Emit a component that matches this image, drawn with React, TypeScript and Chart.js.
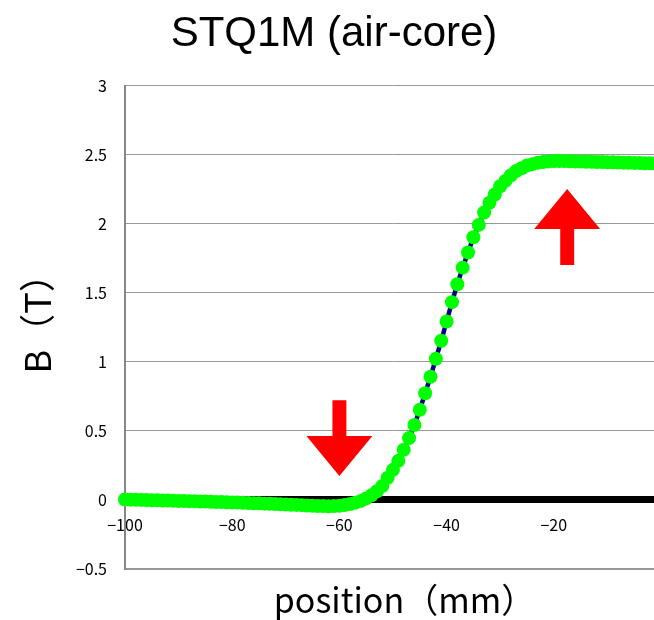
import React, { useEffect, useRef } from 'react';
import { Chart, registerables } from 'chart.js';

Chart.register(...registerables);

// ---- data ----
const positionMm = [
  -100, -99, -98, -97, -96, -95, -94, -93, -92, -91,
  -90, -89, -88, -87, -86, -85, -84, -83, -82, -81,
  -80, -79, -78, -77, -76, -75, -74, -73, -72, -71,
  -70, -69, -68, -67, -66, -65, -64, -63, -62, -61,
  -60, -59, -58, -57, -56, -55, -54, -53, -52, -51,
  -50, -49, -48, -47, -46, -45, -44, -43, -42, -41,
  -40, -39, -38, -37, -36, -35, -34, -33, -32, -31,
  -30, -29, -28, -27, -26, -25, -24, -23, -22, -21,
  -20, -19, -18, -17, -16, -15, -14, -13, -12, -11,
  -10, -9, -8, -7, -6, -5, -4, -3, -2, -1, 0,
];
const fieldT = [
  0.000, -0.001, -0.002, -0.003, -0.004, -0.005, -0.006, -0.007, -0.008, -0.009,
  -0.010, -0.011, -0.012, -0.013, -0.014, -0.015, -0.017, -0.018, -0.019, -0.020,
  -0.021, -0.022, -0.024, -0.025, -0.027, -0.028, -0.030, -0.031, -0.033, -0.034,
  -0.036, -0.038, -0.039, -0.041, -0.043, -0.045, -0.047, -0.048, -0.049, -0.048,
  -0.045, -0.040, -0.033, -0.023, -0.010, 0.008, 0.031, 0.060, 0.098, 0.158,
  0.215, 0.280, 0.360, 0.445, 0.540, 0.650, 0.770, 0.890, 1.020, 1.150,
  1.290, 1.430, 1.560, 1.680, 1.790, 1.900, 1.990, 2.080, 2.150, 2.210,
  2.270, 2.310, 2.350, 2.380, 2.400, 2.420, 2.430, 2.440, 2.445, 2.450,
  2.452, 2.452, 2.452, 2.451, 2.450, 2.449, 2.448, 2.447, 2.446, 2.445,
  2.444, 2.443, 2.442, 2.441, 2.440, 2.439, 2.438, 2.437, 2.436, 2.435, 2.434,
];
const baselineX = [-100, 0];
const baselineY = [0, 0];

const xTickValues = [-100, -80, -60, -40, -20, 0];
const yTickValues = [-0.5, 0, 0.5, 1, 1.5, 2, 2.5, 3];

// arrows (data units): centre x, tip y, head-base y, tail y
const arrowX = [-60, -17.5];
const arrowTipY = [0.17, 2.25];
const arrowHeadBaseY = [0.46, 1.96];
const arrowTailY = [0.72, 1.7];
const arrowHeadHalfWidthMm = 6.15;
const arrowShaftHalfWidthMm = 1.3;

const TITLE = 'STQ1M (air-core)';
const X_TITLE = '   position（mm）';
const Y_TITLE = '   B（T）';

const CJK = "'Noto Sans CJK JP', 'Noto Sans', sans-serif";
const fmt = (v: number | string) => String(v).replace('-', '\u2212');

const arrowPlugin = {
  id: 'redArrows',
  afterDatasetsDraw(chart: any) {
    const { ctx, scales } = chart;
    const x = scales.x;
    const y = scales.y;
    ctx.save();
    ctx.fillStyle = '#ff0000';
    arrowX.forEach((ax, i) => {
      const cx = x.getPixelForValue(ax);
      const hw = x.getPixelForValue(ax + arrowHeadHalfWidthMm) - cx;
      const sw = x.getPixelForValue(ax + arrowShaftHalfWidthMm) - cx;
      const tip = y.getPixelForValue(arrowTipY[i]);
      const base = y.getPixelForValue(arrowHeadBaseY[i]);
      const tail = y.getPixelForValue(arrowTailY[i]);
      ctx.beginPath();
      ctx.moveTo(cx - sw, tail);
      ctx.lineTo(cx + sw, tail);
      ctx.lineTo(cx + sw, base);
      ctx.lineTo(cx + hw, base);
      ctx.lineTo(cx, tip);
      ctx.lineTo(cx - hw, base);
      ctx.lineTo(cx - sw, base);
      ctx.closePath();
      ctx.fill();
    });
    ctx.restore();
  },
};

export default function App() {
  const ref = useRef<HTMLCanvasElement | null>(null);

  useEffect(() => {
    if (!ref.current) return;
    const greenData = positionMm.map((p, i) => ({ x: p, y: fieldT[i] }));
    const blackData = baselineX.map((p, i) => ({ x: p, y: baselineY[i] }));

    const chart = new Chart(ref.current, {
      type: 'scatter',
      data: {
        datasets: [
          {
            label: 'B',
            data: greenData,
            showLine: true,
            borderColor: '#000080',
            borderWidth: 4.5,
            pointRadius: 7,
            pointHoverRadius: 7,
            pointBackgroundColor: '#00ff00',
            pointBorderColor: '#00ff00',
            pointBorderWidth: 0,
            clip: false as any,
            order: 1,
            xAxisID: 'x',
            yAxisID: 'y',
          },
          {
            label: 'zero',
            data: blackData,
            showLine: true,
            borderColor: '#000000',
            borderWidth: 7,
            pointRadius: 0,
            order: 3,
            xAxisID: 'x',
            yAxisID: 'y',
          },
        ],
      },
      options: {
        responsive: false,
        animation: false,
        devicePixelRatio: 1,
        layout: { padding: { top: 0, left: 0, right: 0, bottom: 0 } },
        plugins: {
          legend: { display: false },
          tooltip: { enabled: false },
          title: {
            display: true,
            text: TITLE,
            color: '#000',
            font: { family: "'Liberation Sans', Arial, sans-serif", size: 42, weight: 'normal' as any },
            padding: { top: 9.3, bottom: 25.8 },
          },
        },
        scales: {
          x: {
            type: 'linear',
            position: { y: 0 } as any,
            min: -100,
            max: 0,
            afterBuildTicks: (s: any) => {
              s.ticks = xTickValues.map((v) => ({ value: v }));
            },
            grid: {
              display: true,
              drawOnChartArea: false,
              drawTicks: true,
              tickLength: 16,
              tickColor: 'rgba(0,0,0,0)',
              color: 'rgba(0,0,0,0)',
            },
            border: { display: false },
            ticks: {
              color: '#000',
              padding: 0,
              maxRotation: 0,
              autoSkip: false,
              font: { family: CJK, size: 16 },
              callback: (v: any) => fmt(v),
            },
          },
          xb: {
            type: 'linear',
            position: 'bottom',
            min: -100,
            max: 0,
            grid: { display: false, drawTicks: false },
            border: { display: false },
            ticks: { display: false },
            afterFit: (s: any) => {
              s.height = 51.5;
            },
            title: {
              display: true,
              text: X_TITLE,
              color: '#000',
              font: { family: CJK, size: 34 },
              padding: { top: 0, bottom: 0 },
            },
          },
          y: {
            type: 'linear',
            position: 'left',
            min: -0.5,
            max: 3,
            afterBuildTicks: (s: any) => {
              s.ticks = yTickValues.map((v) => ({ value: v }));
            },
            afterFit: (s: any) => {
              s.width = 125;
            },
            grid: {
              color: '#999999',
              lineWidth: (c: any) => (c.tick && c.tick.value === -0.5 ? 2 : 1),
              drawTicks: false,
            },
            border: { display: true, color: '#868686', width: 2 },
            ticks: {
              color: '#000',
              padding: 18,
              font: { family: CJK, size: 16 },
              callback: (v: any) => fmt(v),
            },
            title: {
              display: true,
              text: Y_TITLE,
              color: '#000',
              font: { family: CJK, size: 36 },
              padding: { top: 16, bottom: 0 },
            },
          },
        },
      },
      plugins: [arrowPlugin],
    });
    return () => chart.destroy();
  }, []);

  return (
    <div
      style={{
        position: 'absolute',
        left: 0,
        top: 0,
        width: 654,
        height: 620,
        overflow: 'hidden',
        background: '#fff',
      }}
    >
      <canvas ref={ref} width={668} height={620} style={{ display: 'block', width: 668, height: 620 }} />
    </div>
  );
}
